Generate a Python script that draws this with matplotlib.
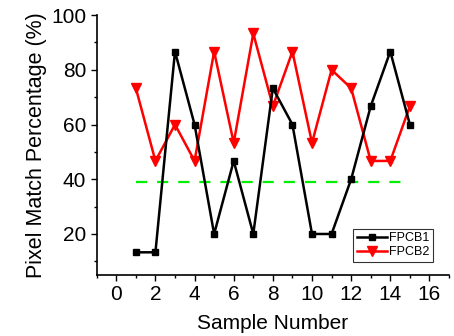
import matplotlib
matplotlib.use("Agg")
import matplotlib.pyplot as plt
from matplotlib.ticker import MultipleLocator

plt.rcParams['font.family'] = ['Liberation Sans', 'DejaVu Sans']

# data
samples = [1, 2, 3, 4, 5, 6, 7, 8, 9, 10, 11, 12, 13, 14, 15]
fpcb1 = [13.3, 13.3, 86.7, 60, 20, 46.7, 20, 73.3, 60, 20, 20, 40, 66.7, 86.7, 60]
fpcb2 = [73.3, 46.7, 60, 46.7, 86.7, 53.3, 93.3, 66.7, 86.7, 53.3, 80, 73.3, 46.7, 46.7, 66.7]
threshold = 39
x_ticks = [0, 2, 4, 6, 8, 10, 12, 14, 16]
y_ticks = [20, 40, 60, 80, 100]

fig = plt.figure(figsize=(4.54, 3.36), dpi=100)
ax = fig.add_axes([0.213, 0.1815, 0.776, 0.7735])

ax.plot([samples[0], samples[-1]], [threshold, threshold], color='#00ee00',
        lw=1.6, dashes=(5, 4.5), zorder=1)
ax.plot(samples, fpcb1, color='black', lw=1.8, marker='s', ms=5,
        label='FPCB1', zorder=3)
ax.plot(samples, fpcb2, color='red', lw=1.8, marker='v', ms=7,
        label='FPCB2', zorder=2)

ax.set_xlim(-1, 17)
ax.set_ylim(5, 100)
ax.set_xticks(x_ticks)
ax.set_yticks(y_ticks)
ax.xaxis.set_minor_locator(MultipleLocator(1))
ax.yaxis.set_minor_locator(MultipleLocator(10))
ax.spines['top'].set_visible(False)
ax.spines['right'].set_visible(False)
ax.spines['left'].set_linewidth(1.2)
ax.spines['bottom'].set_linewidth(1.2)
ax.tick_params(which='major', direction='out', length=4, width=1, labelsize=15)
ax.tick_params(which='minor', direction='out', length=2.5, width=1)

ax.set_xlabel('Sample Number', fontsize=15, labelpad=7)
ax.set_ylabel('Pixel Match Percentage (%)', fontsize=15.5, labelpad=3)

leg = ax.legend(loc='lower right', bbox_to_anchor=(0.955, 0.05), fontsize=9,
                frameon=True, fancybox=False, edgecolor='black',
                handlelength=2.4, handletextpad=0.2, borderpad=0.3,
                labelspacing=0.15, borderaxespad=0)
leg.get_frame().set_linewidth(0.8)

fig.savefig('out.png', dpi=100)
